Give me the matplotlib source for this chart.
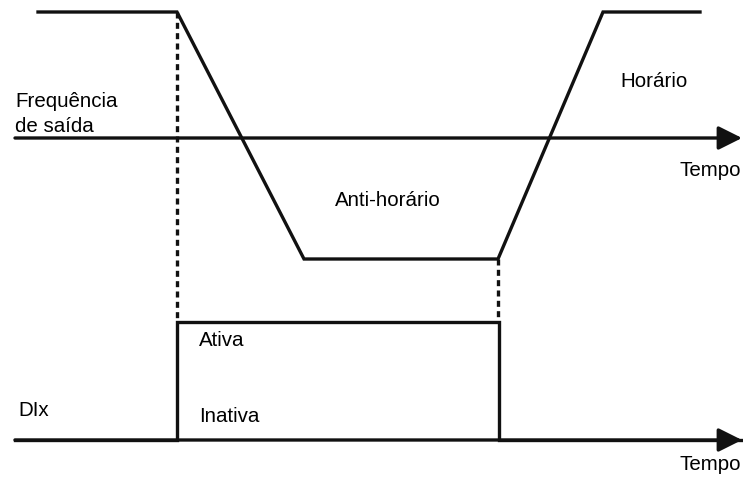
import matplotlib.pyplot as plt

# time instants (arbitrary units, shared by both traces)
t_freq = [38, 177, 304, 498, 603, 700]
freq = [126, 126, -121, -121, 126, 126]     # output frequency, + = horário
t_di = [15, 177, 177, 499, 499, 742]
di = [0, 0, 1, 1, 0, 0]                     # DIx state
t_end = 742

plt.rcParams['font.family'] = ['Liberation Sans', 'DejaVu Sans']

fig = plt.figure(figsize=(7.43, 4.79), dpi=100)
ax = fig.add_axes([0, 0, 1, 1])
ax.set_xlim(0, 743)
ax.set_ylim(479, 0)
ax.axis('off')

lw = 2.4
col = '#111111'
f0 = 138      # frequency axis level
d0 = 440      # DI axis level
dh = 118      # DI high level height

# output frequency
ax.plot(t_freq, [f0 - v for v in freq], color=col, lw=lw, solid_joinstyle='miter')
# DI signal
ax.plot(t_di, [d0 - dh * v for v in di], color=col, lw=lw, solid_joinstyle='miter')

# dotted guides
dash = (0, (1.8, 1.3))
ax.plot([t_freq[1], t_freq[1]], [f0 - freq[1], d0 - dh], color=col, lw=lw, linestyle=dash)
ax.plot([t_freq[3], t_freq[3]], [f0 - freq[3], d0 - dh], color=col, lw=lw, linestyle=dash)

# time axes with arrows
for y in (f0, d0):
    ax.annotate('', xy=(t_end, y), xytext=(15, y),
                arrowprops=dict(arrowstyle='-|>,head_length=0.8,head_width=0.4',
                                mutation_scale=18, lw=lw, color=col,
                                shrinkA=0, shrinkB=0))

fs = 14.8
ax.text(15, 101, 'Frequência', fontsize=fs, va='center', ha='left')
ax.text(15, 126, 'de saída', fontsize=fs, va='center', ha='left')
ax.text(741, 170, 'Tempo', fontsize=fs, va='center', ha='right')
ax.text(741, 465, 'Tempo', fontsize=fs, va='center', ha='right')
ax.text(654, 81, 'Horário', fontsize=fs, va='center', ha='center')
ax.text(388, 201, 'Anti-horário', fontsize=fs, va='center', ha='center')
ax.text(199, 341, 'Ativa', fontsize=fs, va='center', ha='left')
ax.text(199, 417, 'Inativa', fontsize=fs, va='center', ha='left')
ax.text(18, 411, 'DIx', fontsize=fs, va='center', ha='left')

fig.savefig('out.png', dpi=100)
